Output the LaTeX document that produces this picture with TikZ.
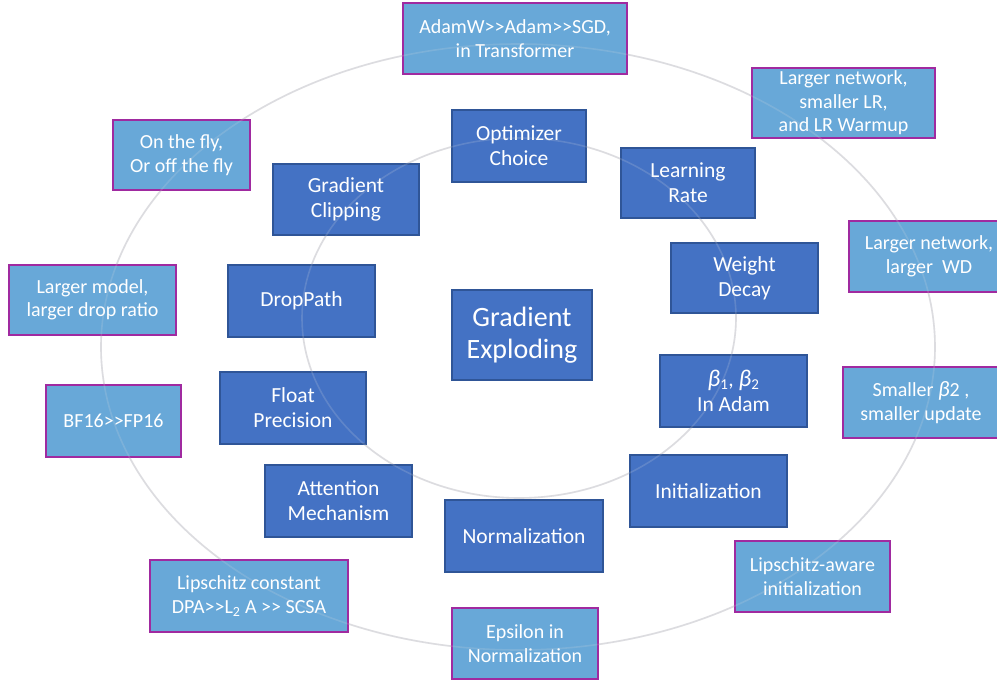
\documentclass[tikz,border=0pt]{standalone}
\usepackage{fontspec}
\setmainfont{Carlito}[Ligatures=TeXOff]
\definecolor{darkfill}{HTML}{4472C4}
\definecolor{darkline}{HTML}{2F5597}
\definecolor{lightfill}{HTML}{68A8D8}
\definecolor{lightline}{HTML}{A02AA0}
\definecolor{ringcol}{HTML}{DCDCE0}
\newcommand{\rings}[1]{%
  \draw[ring,#1] (518,347) ellipse [x radius=417pt, y radius=303pt];
  \draw[ring,#1] (519,318) ellipse [x radius=217pt, y radius=180pt];}
\newcommand{\gb}[1]{{\fontsize{24}{25}\selectfont\itshape β}\textsubscript{#1}}
\begin{document}
\begin{tikzpicture}[x=1pt,y=-1pt,
  ring/.style={draw=ringcol,line width=1.6pt},
  darkbox/.style={draw=darkline,fill=darkfill,line width=1.3pt,text=white,align=center,inner sep=0pt,font=\fontsize{21.5}{25}\selectfont},
  lightbox/.style={draw=lightline,fill=lightfill,line width=1.8pt,text=white,align=center,inner sep=0pt,font=\fontsize{20}{23.5}\selectfont},
  sz/.style 2 args={minimum width=#1pt,minimum height=#2pt}]
\useasboundingbox (0,0) rectangle (997,680);
\fill[white] (0,0) rectangle (997,680);
% rings
\rings{}
% outer boxes
\node[lightbox,sz={224}{71}] (adam) at (515,38.5) {AdamW>>Adam>>SGD,\\in Transformer};
\node[lightbox,sz={183}{70}] (lrw) at (843.5,103) {Larger network,\\smaller LR,\\and LR Warmup};
\node[lightbox,sz={137}{70}] (fly) at (181.5,155) {On the fly,\\Or off the fly};
\node[lightbox,sz={160}{71}] (lwd) at (929,256.5) {Larger network,\\larger\ \ WD};
\node[lightbox,sz={156}{71}] (sb) at (921,402.5) {Smaller {\fontsize{22}{24}\selectfont\itshape β}2 ,\\smaller update};
\node[lightbox,sz={167}{70}] (lm) at (92.5,300) {Larger model,\\larger drop ratio};
\node[lightbox,sz={135}{72}] (bf) at (113.5,421) {BF16>>FP16};
\node[lightbox,sz={155}{71}] (lipa) at (812.5,576.5) {Lipschitz-aware\\initialization};
\node[lightbox,sz={198}{72}] (lipc) at (249,596) {Lipschitz constant\\DPA>>L\textsubscript{2} A >> SCSA};
\node[lightbox,sz={146}{71}] (eps) at (525,643.5) {Epsilon in\\Normalization};
% inner boxes
\node[darkbox,sz={134}{72}] (opt) at (519,146) {Optimizer\\Choice};
\node[darkbox,sz={134}{70}] (lr) at (688,183) {Learning\\Rate};
\node[darkbox,sz={146}{71}] (gc) at (346,199.5) {Gradient\\Clipping};
\node[darkbox,sz={147}{70}] (wd) at (744.5,278) {Weight\\Decay};
\node[darkbox,sz={147}{72}] (dp) at (301.5,301) {DropPath};
\node[darkbox,sz={140}{90},font=\fontsize{28}{32}\selectfont] (ge) at (522,335) {Gradient\\Exploding};
\node[darkbox,sz={147}{72}] (beta) at (733.5,391) {\gb{1}, \gb{2}\\In Adam};
\node[darkbox,sz={146}{72}] (fp) at (293,408) {Float\\Precision};
\node[darkbox,sz={147}{72}] (att) at (338.5,501) {Attention\\Mechanism};
\node[darkbox,sz={157}{72}] (init) at (708.5,491) {Initialization};
\node[darkbox,sz={158}{72}] (norm) at (524,536) {Normalization};
% faint rings seen through the boxes
\rings{opacity=0.18}
\end{tikzpicture}
\end{document}
